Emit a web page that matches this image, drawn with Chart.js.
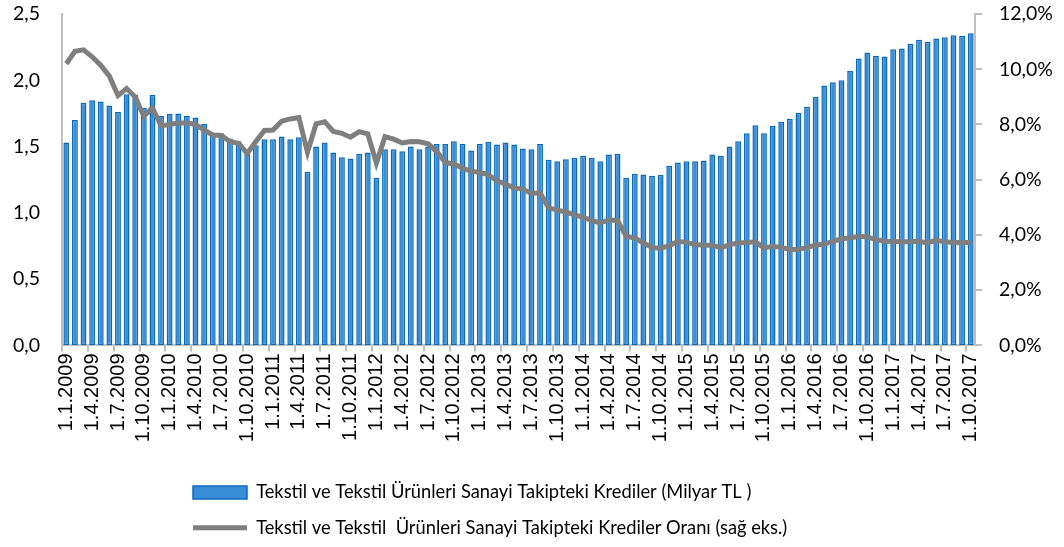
<!DOCTYPE html>
<html>
<head>
<meta charset="utf-8">
<script src="https://cdn.jsdelivr.net/npm/chart.js@4.4.0/dist/chart.umd.min.js"></script>
<style>
  html, body { margin: 0; padding: 0; background: #fff; }
</style>
</head>
<body>
<canvas id="chartKrediler" width="1064" height="547"></canvas>
<script>
// Aylar: 1.1.2009 - 1.10.2017
var years = [2009, 2010, 2011, 2012, 2013, 2014, 2015, 2016, 2017];
var categories = [];
years.forEach(function (y) {
  for (var m = 1; m <= 12; m++) {
    if (y === 2017 && m > 10) break;
    categories.push("1." + m + "." + y);
  }
});

// Takipteki krediler (Milyar TL)
var krediler = [
  1.53, 1.70, 1.83, 1.85, 1.84, 1.81, 1.76, 1.895, 1.89, 1.79, 1.89, 1.73,
  1.745, 1.75, 1.73, 1.72, 1.67, 1.60, 1.60, 1.56, 1.54, 1.47, 1.51, 1.555,
  1.555, 1.575, 1.555, 1.57, 1.31, 1.50, 1.53, 1.455, 1.42, 1.41, 1.445, 1.455,
  1.265, 1.48, 1.48, 1.465, 1.50, 1.48, 1.50, 1.52, 1.52, 1.54, 1.52, 1.47,
  1.52, 1.535, 1.515, 1.53, 1.515, 1.485, 1.48, 1.52, 1.40, 1.39, 1.405, 1.415,
  1.43, 1.415, 1.39, 1.44, 1.445, 1.265, 1.295, 1.29, 1.28, 1.285, 1.355, 1.38,
  1.39, 1.39, 1.395, 1.44, 1.43, 1.50, 1.54, 1.60, 1.66, 1.60, 1.655, 1.685,
  1.71, 1.755, 1.80, 1.875, 1.96, 1.985, 2.00, 2.07, 2.165, 2.21, 2.185, 2.18,
  2.235, 2.24, 2.275, 2.305, 2.29, 2.315, 2.325, 2.34, 2.335, 2.355
];

// Takipteki krediler orani (%) - sag eksen
var oran = [
  10.2, 10.65, 10.7, 10.45, 10.15, 9.75, 9.05, 9.3, 9.0, 8.3, 8.6, 7.95,
  8.0, 8.05, 8.05, 8.0, 7.8, 7.62, 7.6, 7.38, 7.32, 6.95, 7.38, 7.78,
  7.8, 8.12, 8.2, 8.25, 7.0, 8.02, 8.1, 7.75, 7.68, 7.54, 7.74, 7.66,
  6.6, 7.56, 7.47, 7.33, 7.38, 7.37, 7.3, 7.02, 6.62, 6.57, 6.42, 6.3,
  6.27, 6.18, 5.96, 5.84, 5.7, 5.66, 5.5, 5.53, 4.98, 4.9, 4.83, 4.73,
  4.64, 4.53, 4.43, 4.55, 4.52, 3.95, 3.89, 3.71, 3.55, 3.51, 3.61, 3.77,
  3.73, 3.65, 3.63, 3.63, 3.53, 3.65, 3.71, 3.73, 3.75, 3.53, 3.59, 3.55,
  3.47, 3.47, 3.55, 3.63, 3.67, 3.77, 3.86, 3.89, 3.95, 3.93, 3.83, 3.77,
  3.76, 3.75, 3.75, 3.77, 3.71, 3.81, 3.75, 3.73, 3.73, 3.73
];

var leftTicks = [0, 0.5, 1, 1.5, 2, 2.5];
var rightTicks = [0, 2, 4, 6, 8, 10, 12];

var axisGray = "#bfbfbf";

// legend satirlari soldan baslasin
var legendShift = {
  id: "legendShift",
  afterLayout: function (chart) {
    chart.legend.left = 176;
  },
};

// eksen etiketleri icin ekstra ust/alt bosluk olmasin
function noPad(scale) {
  scale.paddingTop = 0;
  scale.paddingBottom = 0;
}

var ctx = document.getElementById("chartKrediler").getContext("2d");

new Chart(ctx, {
  type: "bar",
  data: {
    labels: categories,
    datasets: [
      {
        type: "bar",
        label: "Tekstil ve Tekstil Ürünleri Sanayi Takipteki Krediler (Milyar TL )",
        data: krediler,
        backgroundColor: "#3a8ed8",
        borderColor: "#0a6bbd",
        borderWidth: 1.5,
        borderSkipped: false,
        categoryPercentage: 1,
        barPercentage: 0.68,
        yAxisID: "y",
        order: 2,
        pointStyle: "rect",
      },
      {
        type: "line",
        label: "Tekstil ve Tekstil  Ürünleri Sanayi Takipteki Krediler Oranı (sağ eks.)",
        data: oran,
        borderColor: "#7f7f7f",
        backgroundColor: "#7f7f7f",
        borderWidth: 5,
        pointRadius: 0,
        tension: 0,
        yAxisID: "y1",
        order: 1,
        pointStyle: "line",
      },
    ],
  },
  plugins: [legendShift],
  options: {
    responsive: false,
    animation: false,
    layout: { padding: { top: 14, left: 0, right: 0, bottom: 0 } },
    plugins: {
      tooltip: { enabled: false },
      legend: {
        position: "bottom",
        align: "start",
        labels: {
          usePointStyle: true,
          pointStyleWidth: 54,
          boxHeight: 13,
          padding: 17,
          color: "#000",
          font: { family: "Lato", size: 18.3 },
          sort: function (a, b) {
            return a.datasetIndex - b.datasetIndex;
          },
        },
      },
    },
    scales: {
      x: {
        offset: true,
        afterFit: function (scale) {
          scale.height = 121;
        },
        border: { color: axisGray, width: 2 },
        grid: {
          offset: true,
          drawOnChartArea: false,
          drawTicks: true,
          tickLength: 6,
          color: function (c) {
            return c.index % 3 === 0 ? axisGray : "rgba(0,0,0,0)";
          },
          lineWidth: 2,
        },
        ticks: {
          autoSkip: false,
          maxRotation: 90,
          minRotation: 90,
          padding: 2,
          color: "#000",
          font: { family: "Liberation Sans", size: 20 },
          callback: function (v, i) {
            return i % 3 === 0 ? categories[i] : "";
          },
        },
      },
      y: {
        position: "left",
        min: 0,
        max: 2.5,
        afterFit: function (scale) {
          scale.width = 62;
          noPad(scale);
        },
        afterBuildTicks: function (scale) {
          scale.ticks = leftTicks.map(function (v) {
            return { value: v };
          });
        },
        border: { color: axisGray, width: 2 },
        grid: { display: true, drawOnChartArea: false, drawTicks: false },
        ticks: {
          padding: 22,
          color: "#000",
          font: { family: "Lato", size: 19.5 },
          callback: function (v) {
            return v.toFixed(1).replace(".", ",");
          },
        },
      },
      y1: {
        position: "right",
        min: 0,
        max: 12,
        afterFit: function (scale) {
          scale.width = 89;
          noPad(scale);
        },
        afterBuildTicks: function (scale) {
          scale.ticks = rightTicks.map(function (v) {
            return { value: v };
          });
        },
        border: { color: axisGray, width: 2 },
        grid: {
          drawOnChartArea: false,
          drawTicks: true,
          tickLength: 7,
          color: axisGray,
          lineWidth: 2,
        },
        ticks: {
          padding: 17,
          color: "#000",
          font: { family: "Lato", size: 19.5 },
          callback: function (v) {
            return v.toFixed(1).replace(".", ",") + "%";
          },
        },
      },
    },
  },
});
</script>
</body>
</html>
